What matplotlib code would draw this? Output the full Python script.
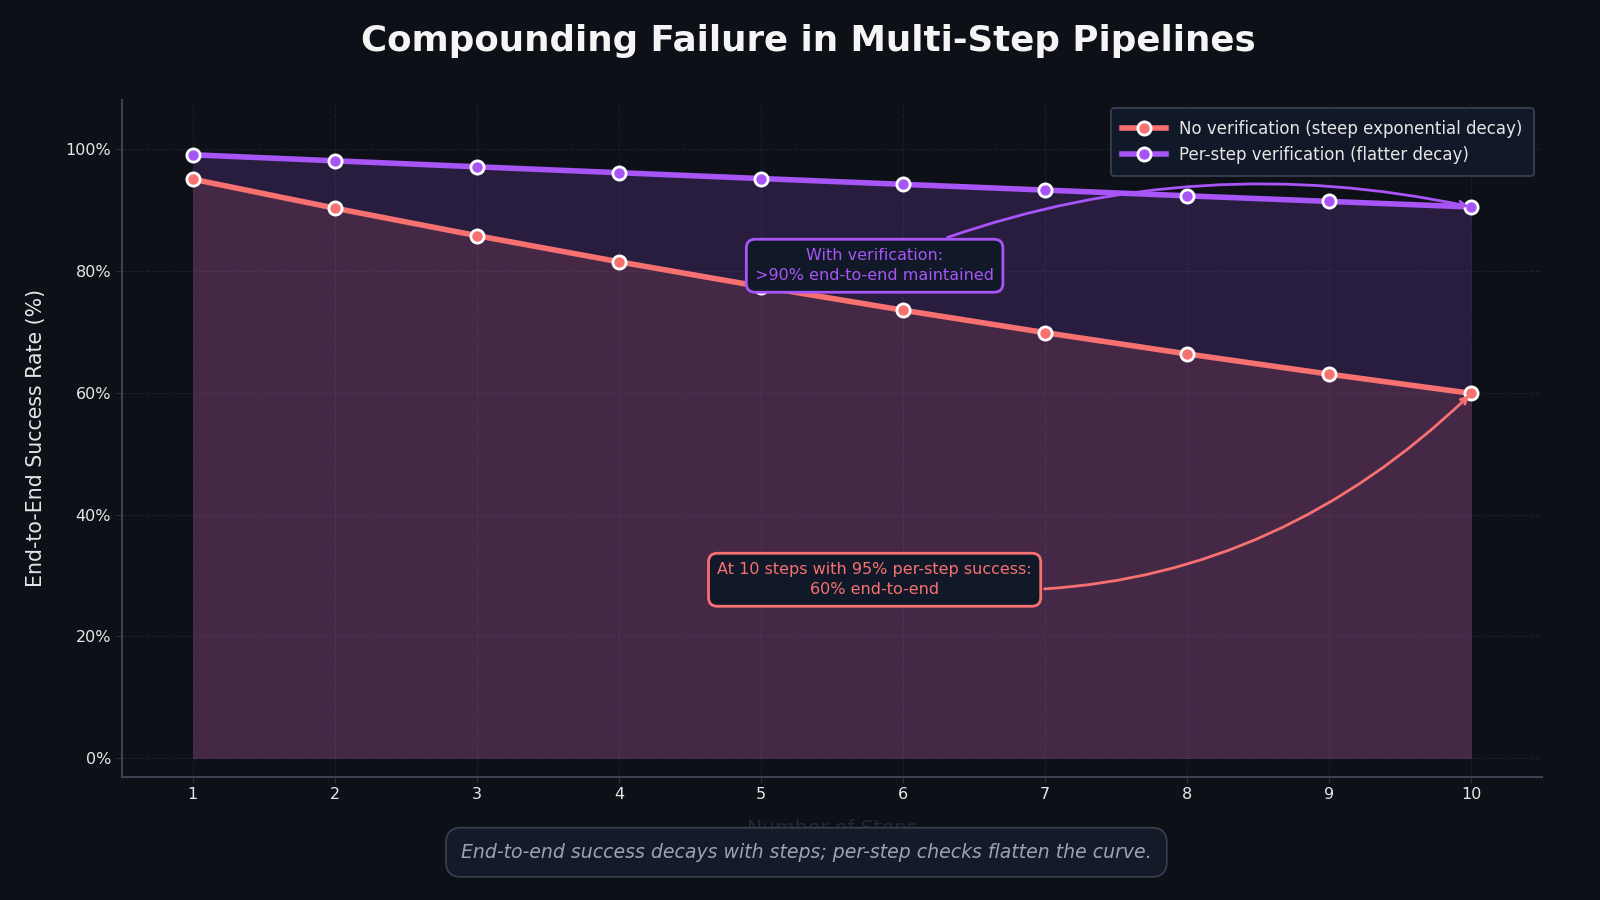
import matplotlib
matplotlib.use("Agg")
import matplotlib.pyplot as plt
import matplotlib.ticker as mtick

# data: end-to-end success (%) by number of steps
steps        = [1, 2, 3, 4, 5, 6, 7, 8, 9, 10]
no_verif     = [95.0, 90.25, 85.74, 81.45, 77.38, 73.51, 69.83, 66.34, 63.02, 59.87]
with_verif   = [99.0, 98.01, 97.03, 96.06, 95.10, 94.15, 93.21, 92.27, 91.35, 90.44]
y_ticks      = [0, 20, 40, 60, 80, 100]

title        = "Compounding Failure in Multi-Step Pipelines"
label_no     = "No verification (steep exponential decay)"
label_with   = "Per-step verification (flatter decay)"
note_with    = "With verification:\n>90% end-to-end maintained"
note_no      = "At 10 steps with 95% per-step success:\n60% end-to-end"
caption      = "End-to-end success decays with steps; per-step checks flatten the curve."

bg       = "#0d1117"
box_bg   = "#111827"
spine_c  = "#3b4252"
grid_c   = "#222a36"
text_c   = "#e6e6e6"
red      = "#f87171"
purple   = "#a855f7"

plt.rcParams.update({
    "figure.facecolor": bg,
    "axes.facecolor":   bg,
    "font.family":      "DejaVu Sans",
    "text.color":       text_c,
})

fig = plt.figure(figsize=(16, 9), dpi=100)
ax = fig.add_axes([0.076, 0.137, 0.888, 0.752])

ax.fill_between(steps, with_verif, 0, color=purple, alpha=0.18, linewidth=0, zorder=1)
ax.fill_between(steps, no_verif, 0, color=red, alpha=0.14, linewidth=0, zorder=1)

ax.plot(steps, no_verif, color=red, lw=4, marker="o", ms=9.5, mfc=red,
        mec="white", mew=2, label=label_no, zorder=4)
ax.plot(steps, with_verif, color=purple, lw=4, marker="o", ms=9.5, mfc=purple,
        mec="white", mew=2, label=label_with, zorder=4)

ax.set_xlim(0.5, 10.5)
ax.set_ylim(-3, 108)
ax.set_xticks(steps)
ax.set_yticks(y_ticks)
ax.yaxis.set_major_formatter(mtick.FuncFormatter(lambda v, _: f"{v:.0f}%"))
ax.tick_params(colors=text_c, labelsize=11.5, length=4, color="#2a303a")
ax.grid(True, color=grid_c, ls="--", lw=0.8, alpha=0.6)
ax.set_axisbelow(True)
for side in ("top", "right"):
    ax.spines[side].set_visible(False)
for side in ("left", "bottom"):
    ax.spines[side].set_color(spine_c)
    ax.spines[side].set_linewidth(1.5)

ax.set_ylabel("End-to-End Success Rate (%)", fontsize=14.8, color=text_c, labelpad=14)
ax.set_xlabel("Number of Steps", fontsize=14.5, color="#222936", labelpad=12)

fig.suptitle(title, fontsize=25.7, fontweight="bold", color="#f5f5f5",
             x=0.505, y=0.955, va="center")

leg = ax.legend(loc="upper right", fontsize=12, facecolor=box_bg,
                edgecolor=spine_c, framealpha=1, labelcolor=text_c,
                borderpad=0.7, handlelength=2.6)
leg.get_frame().set_linewidth(1.2)

ax.annotate(note_with, xy=(steps[-1], with_verif[-1]), xytext=(5.8, 80.8),
            ha="center", va="center", fontsize=11.5, color=purple, linespacing=1.45,
            bbox=dict(boxstyle="round,pad=0.55", facecolor=box_bg,
                      edgecolor=purple, linewidth=2),
            arrowprops=dict(arrowstyle="->", color=purple, lw=2,
                            connectionstyle="arc3,rad=-0.16"),
            zorder=5)
ax.annotate(note_no, xy=(steps[-1], no_verif[-1]), xytext=(5.8, 29.3),
            ha="center", va="center", fontsize=11.5, color=red, linespacing=1.45,
            bbox=dict(boxstyle="round,pad=0.55", facecolor=box_bg,
                      edgecolor=red, linewidth=2),
            arrowprops=dict(arrowstyle="->", color=red, lw=2,
                            connectionstyle="arc3,rad=0.25"),
            zorder=5)

fig.text(0.504, 0.053, caption, ha="center", va="center", fontsize=13.6,
         style="italic", color="#9aa3b2",
         bbox=dict(boxstyle="round,pad=0.8", facecolor="#151c2a",
                   edgecolor=spine_c, linewidth=1.2, alpha=0.95))

fig.savefig("out.png", dpi=100, facecolor=bg)
